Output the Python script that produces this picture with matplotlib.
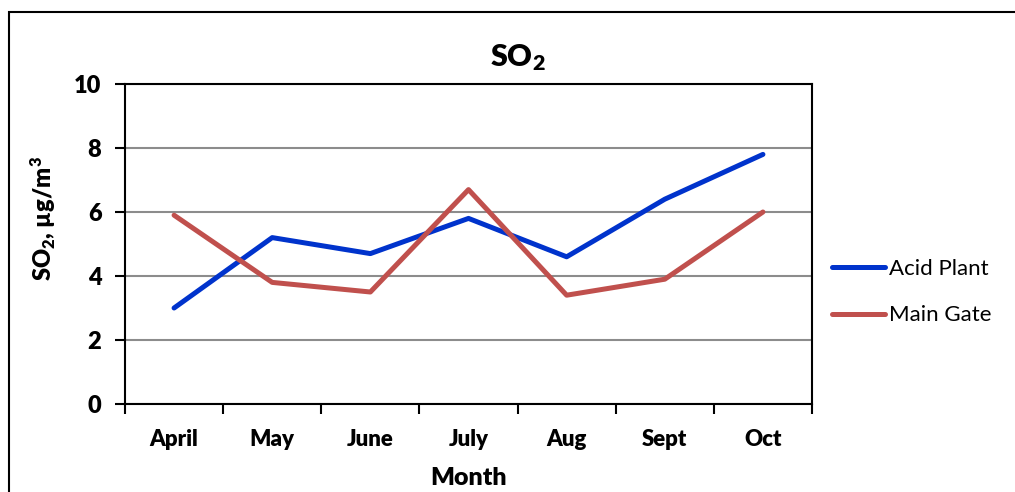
import matplotlib.pyplot as plt
from matplotlib.patches import Rectangle

months = ['April', 'May', 'June', 'July', 'Aug', 'Sept', 'Oct']
acid_plant = [3.0, 5.2, 4.7, 5.8, 4.6, 6.4, 7.8]
main_gate = [5.9, 3.8, 3.5, 6.7, 3.4, 3.9, 6.0]

plt.rcParams['font.family'] = ['Lato', 'DejaVu Sans']
plt.rcParams['mathtext.fontset'] = 'custom'
plt.rcParams['mathtext.rm'] = 'Lato:heavy'
plt.rcParams['mathtext.it'] = 'Lato:heavy'
plt.rcParams['mathtext.bf'] = 'Lato:heavy'

fig = plt.figure(figsize=(10.15, 4.92), dpi=100)
ax = fig.add_axes([125 / 1015, 1 - 404 / 492, (812 - 125) / 1015, (404 - 84) / 492])

# outer frame of the chart object (runs off right/bottom edge)
fig.patches.append(Rectangle((9 / 1015, -0.1), 1.1, 1.1 - 12 / 492,
                             transform=fig.transFigure, fill=False,
                             edgecolor='black', linewidth=1.5, clip_on=False))

x = range(len(months))
ax.plot(x, acid_plant, color='#0033CC', linewidth=3.6, label='Acid Plant',
        solid_capstyle='round', zorder=3)
ax.plot(x, main_gate, color='#C0504D', linewidth=3.6, label='Main Gate',
        solid_capstyle='round', zorder=3)

ax.set_xlim(-0.5, len(months) - 0.5)
ax.set_ylim(0, 10)
ax.set_yticks([0, 2, 4, 6, 8, 10])
ax.set_xticks(x)
ax.set_xticklabels(months)
ax.set_xticks([i - 0.5 for i in range(len(months) + 1)], minor=True)
ax.tick_params(axis='x', which='major', length=0, pad=18)
ax.tick_params(axis='x', which='minor', length=7, width=1.5, direction='out')
ax.tick_params(axis='y', length=7, width=1.5, direction='out', pad=10)
for lab in ax.get_xticklabels() + ax.get_yticklabels():
    lab.set_fontweight('heavy')
    lab.set_fontsize(16)
for lab in ax.get_yticklabels():
    lab.set_fontsize(17)

ax.yaxis.grid(True, color='#8c8c8c', linewidth=1.5)
ax.set_axisbelow(True)
for side in ['left', 'bottom', 'top', 'right']:
    ax.spines[side].set_linewidth(1.5)
    ax.spines[side].set_color('black')

# chart title is centred on the whole chart area, not the plot area
fig.text(518 / 1015, 1 - 58 / 492, 'SO$_2$', fontsize=22, fontweight='heavy',
         ha='center', va='center')
ax.set_xlabel('Month', fontsize=18, fontweight='heavy', labelpad=12)
ax.set_ylabel('SO$_2$, µg/m$^3$', fontsize=17, fontweight='heavy')
ax.yaxis.set_label_coords(-0.097, 0.58)

ax.legend(loc='center left', bbox_to_anchor=(1.0, 0.35), frameon=False,
          fontsize=16, handlelength=2.4, handletextpad=0.15, labelspacing=1.2)

fig.savefig('out.png', dpi=100)
